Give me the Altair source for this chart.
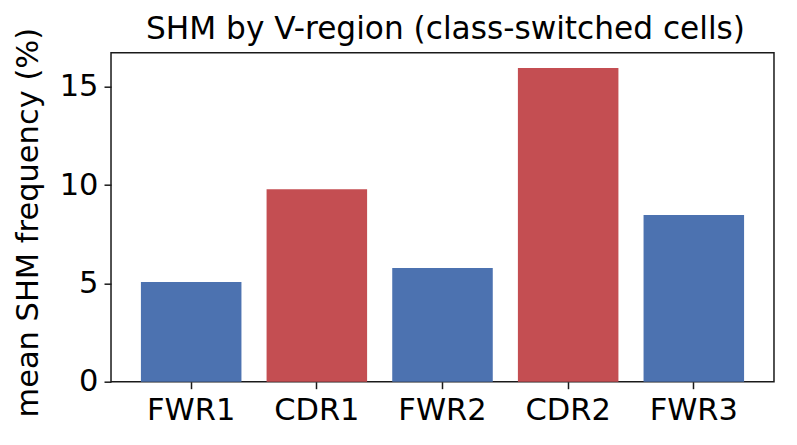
import altair as alt
import pandas as pd

regions = ["FWR1", "CDR1", "FWR2", "CDR2", "FWR3"]
shm_freq = [5.07, 9.78, 5.78, 15.95, 8.48]
region_type = ["FWR", "CDR", "FWR", "CDR", "FWR"]
type_names = ["FWR", "CDR"]
type_colors = ["#4c72b0", "#c44e52"]
y_ticks = [0, 5, 10, 15]

df = pd.DataFrame({"region": regions, "freq": shm_freq, "type": region_type})

FONT = "DejaVu Sans"
FS = 30.5

chart = (
    alt.Chart(df)
    .mark_bar()
    .encode(
        x=alt.X(
            "region:N",
            sort=regions,
            scale=alt.Scale(paddingInner=0.2, paddingOuter=0.238),
            axis=alt.Axis(
                title=None,
                labelAngle=0,
                labelFontSize=FS,
                labelFont=FONT,
                labelColor="#000000",
                tickSize=7,
                tickWidth=1.5,
                tickColor="#1a1a1a",
                labelPadding=7,
                domain=False,
            ),
        ),
        y=alt.Y(
            "freq:Q",
            scale=alt.Scale(domain=[0, 16.73], nice=False, zero=True),
            axis=alt.Axis(
                title="mean SHM frequency (%)",
                values=y_ticks,
                grid=False,
                labelFontSize=FS,
                labelFont=FONT,
                labelColor="#000000",
                titleFontSize=FS,
                titleFont=FONT,
                titleFontWeight="normal",
                titleColor="#000000",
                titleX=-68,
                titleY=169.5,
                titleAngle=-90,
                titleAlign="center",
                titleBaseline="bottom",
                tickSize=7,
                tickWidth=1.5,
                tickColor="#1a1a1a",
                labelPadding=6,
                domain=False,
            ),
        ),
        color=alt.Color(
            "type:N",
            scale=alt.Scale(domain=type_names, range=type_colors),
            legend=None,
        ),
    )
    .properties(
        width=663,
        height=329,
        title=alt.TitleParams(
            "SHM by V-region (class-switched cells)",
            font=FONT,
            fontSize=31.2,
            fontWeight="normal",
            color="#000000",
            anchor="middle",
            baseline="bottom",
            offset=0,
            dy=50,
            dx=3,
        ),
        autosize=alt.AutoSizeParams(type="none"),
        padding={"left": 103, "top": 44.7, "right": 15, "bottom": 55},
    )
    .configure(background="#ffffff")
    .configure_view(stroke="#1a1a1a", strokeWidth=1.5)
)

chart.save("out.html", embed_options={"renderer": "svg", "actions": False})
